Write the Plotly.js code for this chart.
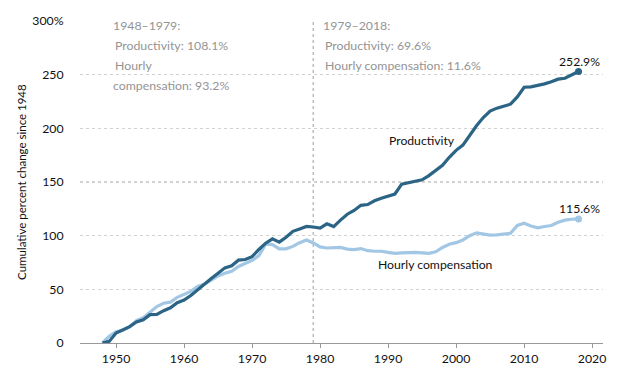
<!DOCTYPE html>
<html>
<head>
<meta charset="utf-8">
<script src="https://cdn.plot.ly/plotly-3.0.1.min.js"></script>
<style>
  html, body { margin: 0; padding: 0; background: #fff; }
  #chart { width: 623px; height: 376px; }
</style>
</head>
<body>
<div id="chart"></div>
<script>
const years = [];
for (let y = 1948; y <= 2018; y++) years.push(y);

const productivity = [
  0.0, 1.5, 9.3, 12.0, 15.3, 19.6, 21.6, 26.4, 26.6, 30.1,
  32.8, 37.6, 40.0, 44.3, 49.8, 55.0, 60.0, 64.9, 70.0, 72.0,
  77.2, 77.8, 80.4, 87.1, 93.0, 97.0, 94.0, 98.5, 104.0, 106.3,
  108.6, 108.1, 107.0, 111.0, 108.5, 114.5, 120.0, 123.5, 128.3, 129.0,
  132.5, 134.8, 137.0, 138.8, 148.0, 149.4, 151.0, 152.0, 156.0, 160.5,
  165.5, 173.0, 179.5, 184.4, 193.7, 202.4, 210.0, 216.0, 218.8, 220.3,
  222.5, 229.3, 238.3, 238.6, 239.8, 241.4, 243.3, 245.8, 246.7, 249.8,
  252.9
];

const compensation = [
  0.0, 6.3, 10.5, 11.8, 15.0, 20.8, 23.5, 28.7, 33.9, 37.1,
  38.1, 42.6, 45.3, 48.1, 52.6, 55.0, 58.5, 62.5, 64.9, 66.9,
  71.3, 74.4, 76.9, 81.4, 92.0, 91.7, 87.7, 87.7, 90.0, 93.5,
  96.0, 93.2, 89.5, 88.5, 88.5, 89.0, 87.5, 87.0, 88.0, 86.0,
  85.5, 85.5, 84.5, 83.5, 84.0, 84.5, 84.5, 84.0, 83.5, 85.0,
  89.0, 92.0, 93.5, 96.0, 100.0, 102.6, 101.5, 100.5, 100.7, 101.8,
  102.3, 109.5, 111.6, 109.0, 107.3, 108.5, 109.5, 112.5, 114.5, 115.3,
  115.6
];

const xTickVals = [1950, 1960, 1970, 1980, 1990, 2000, 2010, 2020];
const yTickVals = [0, 50, 100, 150, 200, 250, 300];
const yTickText = ['0', '50', '100', '150', '200', '250', '300%'];

const darkBlue = '#2b6485';
const lightBlue = '#a2c7e5';
const greyText = '#949494';
const FONT = 'Lato, "Open Sans", sans-serif';

const last = years.length - 1;

const traces = [
  {
    x: years, y: compensation, type: 'scatter', mode: 'lines',
    line: { color: lightBlue, width: 3.2 }, hoverinfo: 'skip'
  },
  {
    x: years, y: productivity, type: 'scatter', mode: 'lines',
    line: { color: darkBlue, width: 3.2 }, hoverinfo: 'skip'
  },
  {
    x: [years[last]], y: [compensation[last]], type: 'scatter', mode: 'markers',
    marker: { color: lightBlue, size: 7 }, hoverinfo: 'skip'
  },
  {
    x: [years[last]], y: [productivity[last]], type: 'scatter', mode: 'markers',
    marker: { color: darkBlue, size: 7 }, hoverinfo: 'skip'
  }
];

function grey(text, x, y) {
  return { text: text, x: x, y: y, xref: 'x', yref: 'y', xanchor: 'left', yanchor: 'middle',
           showarrow: false, font: { family: FONT, size: 12.3, color: greyText } };
}
function black(text, x, y) {
  return { text: text, x: x, y: y, xref: 'x', yref: 'y', xanchor: 'center', yanchor: 'middle',
           showarrow: false, font: { family: FONT, size: 12.2, color: '#111' } };
}

const annotations = [
  grey('1948–1979:', 1949.2, 295.5),
  grey('Productivity: 108.1%', 1949.6, 277),
  grey('Hourly', 1949.6, 258.3),
  grey('compensation: 93.2%', 1949.2, 239.6),
  grey('1979–2018:', 1980.1, 295.5),
  grey('Productivity: 69.6%', 1980.5, 277),
  grey('Hourly compensation: 11.6%', 1980.5, 258.3),
  black(productivity[last].toFixed(1) + '%', 2018.1, 262),
  black(compensation[last].toFixed(1) + '%', 2018.1, 125),
  black('Productivity', 1995.0, 189),
  black('Hourly compensation', 1996.9, 72.7),
  {
    text: 'Cumulative percent change since 1948', xref: 'paper', yref: 'paper',
    x: -0.113, y: 0.5, xanchor: 'center', yanchor: 'middle', textangle: -90,
    showarrow: false, font: { family: FONT, size: 11.5, color: '#111' }
  }
];

const layout = {
  width: 623, height: 376,
  margin: { l: 80, r: 20, t: 21, b: 33, pad: 0 },
  paper_bgcolor: '#fff', plot_bgcolor: '#fff',
  showlegend: false,
  font: { family: FONT, size: 12, color: '#111' },
  xaxis: {
    range: [1944.7, 2021.6],
    tickvals: xTickVals,
    ticks: 'outside', ticklen: 4, tickcolor: '#999', tickwidth: 1,
    showgrid: false, zeroline: false,
    showline: true, linecolor: '#999', linewidth: 1,
    tickfont: { family: FONT, size: 12.3, color: '#111' },
    fixedrange: true
  },
  yaxis: {
    range: [0, 300],
    tickvals: yTickVals, ticktext: yTickText,
    ticks: 'outside', ticklen: 13, tickcolor: 'rgba(0,0,0,0)',
    showgrid: true, gridcolor: '#d2d2d2', griddash: 'dot', gridwidth: 1.2,
    zeroline: false, showline: false,
    tickfont: { family: FONT, size: 12.3, color: '#111' },
    fixedrange: true
  },
  shapes: [
    {
      type: 'line', xref: 'x', yref: 'y', x0: 1979, x1: 1979, y0: 0, y1: 300,
      line: { color: '#bdbdbd', width: 1.5, dash: 'dot' }, layer: 'below'
    }
  ],
  annotations: annotations
};

Plotly.newPlot('chart', traces, layout, { staticPlot: true, displayModeBar: false });
</script>
</body>
</html>
